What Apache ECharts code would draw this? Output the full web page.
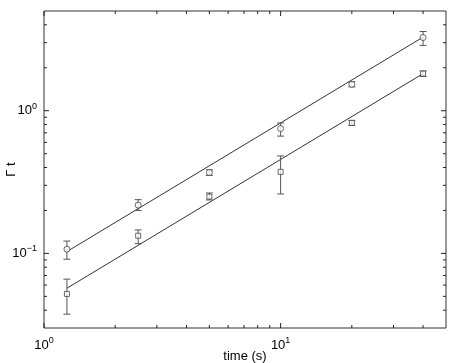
<!DOCTYPE html>
<html>
<head>
<meta charset="utf-8">
<script src="https://cdn.jsdelivr.net/npm/echarts@6/dist/echarts.min.js"></script>
<style>
  html, body { margin: 0; padding: 0; background: #fff; }
  #chart { width: 450px; height: 363px; }
</style>
</head>
<body>
<div id="chart"></div>
<script>
// measured times (s)
const times = [1.25, 2.5, 5, 10, 20, 40];

// circles (upper set)
const circVals = [0.107, 0.218, 0.369, 0.75, 1.53, 3.26];
const circLo = [0.091, 0.2, 0.352, 0.664, 1.47, 2.87];
const circHi = [0.122, 0.238, 0.385, 0.82, 1.6, 3.59];

// squares (lower set)
const sqVals = [0.052, 0.133, 0.25, 0.373, 0.822, 1.82];
const sqLo = [0.0375, 0.117, 0.237, 0.261, 0.79, 1.74];
const sqHi = [0.066, 0.146, 0.265, 0.482, 0.855, 1.9];

// fitted lines, endpoints
const upperFit = [[1.25, 0.103], [40, 3.28]];
const lowerFit = [[1.25, 0.057], [40, 1.82]];

// axis ranges and tick values
const xRange = [1, 50];
const yRange = [0.03, 5];
const xMajor = [1, 10];
const xMinor = [2, 3, 4, 5, 6, 7, 8, 9, 20, 30, 40];
const yMajor = [0.1, 1];
const yMinor = [0.04, 0.05, 0.06, 0.07, 0.08, 0.09, 0.2, 0.3, 0.4, 0.5, 0.6, 0.7, 0.8, 0.9, 2, 3, 4];

const ink = "#333";
const font = "'Liberation Sans', Arial, sans-serif";

function powLabel(value) {
  const e = Math.round(Math.log10(value));
  if (Math.abs(Math.log10(value) - e) > 1e-6) return "";
  return "{b|10}{s|" + (e < 0 ? "\u2212" + -e : e) + "}";
}

const labelRich = {
  b: { fontSize: 13, fontFamily: font, color: "#000" },
  s: { fontSize: 9, fontFamily: font, color: "#000", padding: [0, 0, 9, 0] },
};

function errorBars(lo, hi) {
  return times.map((t, i) => [t, lo[i], hi[i]]);
}

function renderError(params, api) {
  const top = api.coord([api.value(0), api.value(2)]);
  const bot = api.coord([api.value(0), api.value(1)]);
  const w = 3.5;
  const style = { stroke: "#555", lineWidth: 1 };
  return {
    type: "group",
    children: [
      { type: "line", shape: { x1: top[0], y1: top[1], x2: bot[0], y2: bot[1] }, style },
      { type: "line", shape: { x1: top[0] - w, y1: top[1], x2: top[0] + w, y2: top[1] }, style },
      { type: "line", shape: { x1: bot[0] - w, y1: bot[1], x2: bot[0] + w, y2: bot[1] }, style },
    ],
  };
}

// ticks drawn inward on all four sides of the frame
function tickSeries(values, len, isX) {
  return {
    type: "custom",
    silent: true,
    z: 5,
    data: values.map((v) => (isX ? [v, yRange[0]] : [xRange[0], v])),
    renderItem: function (params, api) {
      const cs = params.coordSys;
      const p = api.coord([api.value(0), api.value(1)]);
      const style = { stroke: "#222", lineWidth: 1 };
      if (isX) {
        return {
          type: "group",
          children: [
            { type: "line", shape: { x1: p[0], y1: cs.y + cs.height, x2: p[0], y2: cs.y + cs.height - len }, style },
            { type: "line", shape: { x1: p[0], y1: cs.y, x2: p[0], y2: cs.y + len }, style },
          ],
        };
      }
      return {
        type: "group",
        children: [
          { type: "line", shape: { x1: cs.x, y1: p[1], x2: cs.x + len, y2: p[1] }, style },
          { type: "line", shape: { x1: cs.x + cs.width, y1: p[1], x2: cs.x + cs.width - len, y2: p[1] }, style },
        ],
      };
    },
  };
}

const chart = echarts.init(document.getElementById("chart"));
chart.setOption({
  animation: false,
  backgroundColor: "#fff",
  grid: {
    left: 44,
    right: 4,
    top: 11,
    bottom: 35,
    outerBoundsMode: "none",
    containLabel: false,
    show: true,
    borderColor: "#333",
    borderWidth: 1,
  },
  xAxis: {
    type: "log",
    logBase: 10,
    min: xRange[0],
    max: xRange[1],
    name: "time (s)",
    nameLocation: "middle",
    nameGap: 22,
    nameMoveOverlap: false,
    nameTextStyle: { fontSize: 13, fontFamily: font, color: "#000" },
    axisLine: { show: false },
    axisTick: { show: false },
    splitLine: { show: false },
    axisLabel: { margin: 8, formatter: powLabel, rich: labelRich, showMinLabel: true, showMaxLabel: false },
  },
  yAxis: {
    type: "log",
    logBase: 10,
    min: yRange[0],
    max: yRange[1],
    name: "\u0393 t",
    nameLocation: "middle",
    nameGap: 26,
    nameMoveOverlap: false,
    nameTextStyle: { fontSize: 13, fontFamily: font, color: "#000" },
    axisLine: { show: false },
    axisTick: { show: false },
    splitLine: { show: false },
    axisLabel: { margin: 7, formatter: powLabel, rich: labelRich, showMinLabel: false, showMaxLabel: false },
  },
  series: [
    tickSeries(xMajor, 5, true),
    tickSeries(xMinor, 3, true),
    tickSeries(yMajor, 5, false),
    tickSeries(yMinor, 3, false),
    {
      type: "line",
      data: upperFit,
      symbol: "none",
      lineStyle: { color: ink, width: 1 },
      z: 2,
    },
    {
      type: "line",
      data: lowerFit,
      symbol: "none",
      lineStyle: { color: ink, width: 1 },
      z: 2,
    },
    { type: "custom", data: errorBars(circLo, circHi), renderItem: renderError, z: 3 },
    { type: "custom", data: errorBars(sqLo, sqHi), renderItem: renderError, z: 3 },
    {
      type: "scatter",
      data: times.map((t, i) => [t, circVals[i]]),
      symbol: "circle",
      symbolSize: 6,
      itemStyle: { color: "#fff", borderColor: "#444", borderWidth: 1 },
      z: 4,
    },
    {
      type: "scatter",
      data: times.map((t, i) => [t, sqVals[i]]),
      symbol: "rect",
      symbolSize: 5,
      itemStyle: { color: "#fff", borderColor: "#444", borderWidth: 1 },
      z: 4,
    },
  ],
});
</script>
</body>
</html>
